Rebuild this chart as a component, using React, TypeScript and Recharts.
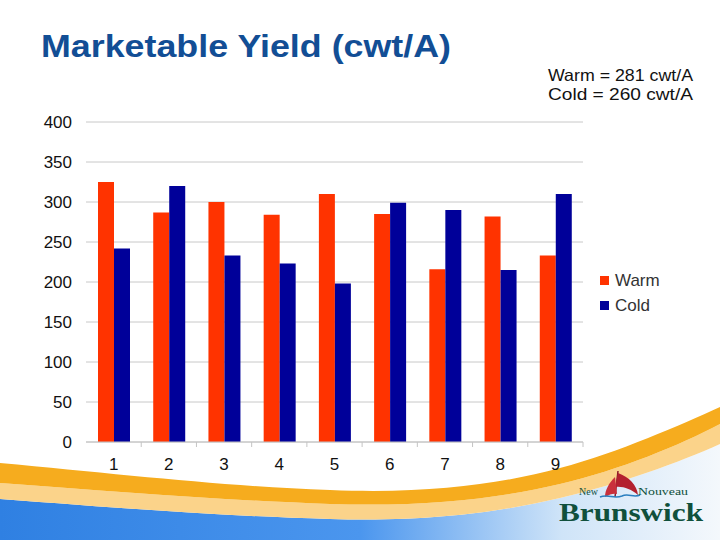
import React from "react";
import { BarChart, Bar, XAxis, YAxis, CartesianGrid, Legend } from "recharts";

const categories = ["1", "2", "3", "4", "5", "6", "7", "8", "9"];
const warm = [325, 287, 300, 284, 310, 285, 216, 282, 233];
const cold = [242, 320, 233, 223, 198, 299, 290, 215, 310];
const yTicks = [0, 50, 100, 150, 200, 250, 300, 350, 400];
const seriesNames = ["Warm", "Cold"];
const seriesColors = ["#FF3300", "#000099"];
const summary = ["Warm = 281 cwt/A", "Cold = 260 cwt/A"];

const data = categories.map((name, i) => ({ name, Warm: warm[i], Cold: cold[i] }));

const W = 720;
const H = 540;
const PLOT_LEFT = 86;
const PLOT_RIGHT = 583;
const BAND = (PLOT_RIGHT - PLOT_LEFT) / categories.length;
const FONT = "'Liberation Sans', Arial, sans-serif";

// x labels at the band centre, small tick marks at the band edges
const XTick = (props: any) => {
  const { x, y, payload } = props;
  return (
    <g>
      <line x1={x + BAND / 2} x2={x + BAND / 2} y1={y} y2={y + 5} stroke="#c4c4c4" />
      <text x={x} y={y + 28} textAnchor="middle" fontSize={17} fill="#111" fontFamily={FONT}>
        {payload.value}
      </text>
    </g>
  );
};

const LegendBox = () => (
  <div style={{ fontFamily: FONT, fontSize: 17, color: "#333" }}>
    {seriesNames.map((s, i) => (
      <div key={s} style={{ display: "flex", alignItems: "center", height: 25 }}>
        <div style={{ width: 9, height: 9, background: seriesColors[i], marginRight: 6 }} />
        <span>{s}</span>
      </div>
    ))}
  </div>
);

const Backdrop = () => (
  <svg width={W} height={H} style={{ position: "absolute", left: 0, top: 0 }}>
    <defs>
      <linearGradient id="sky" x1="0" y1="0" x2="1" y2="0">
        <stop offset="0" stopColor="#2f80e2" />
        <stop offset="0.5" stopColor="#4b96ee" />
        <stop offset="0.78" stopColor="#cfe4f8" />
        <stop offset="1" stopColor="#f4f8fc" />
      </linearGradient>
    </defs>
    {/* blue sky under the swoosh */}
    <path
      d="M0,499 C120,508 220,516 330,519 C430,522 500,512 560,498 C620,484 680,462 720,444 L720,540 L0,540 Z"
      fill="url(#sky)"
    />
    {/* pale orange band */}
    <path
      d="M0,483 C120,492 220,500 330,504 C430,507 500,498 560,484 C620,470 680,445 720,424 L720,444 C680,462 620,484 560,498 C500,512 430,522 330,519 C220,516 120,508 0,499 Z"
      fill="#fbd38a"
    />
    {/* dark orange band */}
    <path
      d="M0,463 C120,474 220,486 330,490 C430,494 500,484 560,468 C620,452 680,425 720,407 L720,424 C680,445 620,470 560,484 C500,498 430,507 330,504 C220,500 120,492 0,483 Z"
      fill="#f6ac1e"
    />

    <text x={41} y={57} fontFamily={FONT} fontWeight="bold" fontSize={32} fill="#124e95" textLength={410} lengthAdjust="spacingAndGlyphs">
      Marketable Yield (cwt/A)
    </text>
    {summary.map((t, i) => (
      <text key={t} x={548} y={81 + i * 19} fontFamily={FONT} fontSize={16.5} fill="#111" textLength={145} lengthAdjust="spacingAndGlyphs">
        {t}
      </text>
    ))}

    {/* logo */}
    <g>
      <line x1={618} y1={471} x2={615} y2={497} stroke="#8a1c2a" strokeWidth={1.5} />
      <path d="M618,473 C629,477 637,485 638,495 C631,489 623,486 615,487 Z" fill="#b3202f" />
      <path d="M615,477 C609,483 605,490 605,497 C610,494 614,493 617,494 Z" fill="#c9303c" />
      <path d="M600,497 C608,494 614,499 622,496 C628,493 634,498 640,495" stroke="#2b7fc0" strokeWidth={1.5} fill="none" />
      <text x={579} y={495} fontFamily="'Liberation Serif', serif" fontSize={10} fill="#10503c">New</text>
      <text x={638} y={495} fontFamily="'Liberation Serif', serif" fontSize={10} fill="#10503c" textLength={50} lengthAdjust="spacingAndGlyphs">Nouveau</text>
      <text x={559} y={521} fontFamily="'Liberation Serif', serif" fontWeight="bold" fontSize={26} fill="#10503c" textLength={144} lengthAdjust="spacingAndGlyphs">
        Brunswick
      </text>
    </g>
  </svg>
);

export default function App() {
  return (
    <div style={{ position: "absolute", left: 0, top: 0, width: W, height: H, background: "#fff", overflow: "hidden" }}>
      <Backdrop />
      <div style={{ position: "absolute", left: 0, top: 0 }}>
        <BarChart
          width={W}
          height={H}
          data={data}
          margin={{ top: 122, right: W - PLOT_RIGHT, bottom: 68, left: 0 }}
          barCategoryGap={12}
          barGap={0}
        >
          <CartesianGrid vertical={false} stroke="#c8c8c8" />
          <YAxis
            width={PLOT_LEFT}
            domain={[0, 400]}
            ticks={yTicks}
            axisLine={false}
            tickLine={false}
            tickSize={0}
            tickMargin={14}
            tick={{ fontSize: 17, fill: "#111", fontFamily: FONT }}
          />
          <XAxis
            dataKey="name"
            height={30}
            axisLine={{ stroke: "#c4c4c4" }}
            tickLine={false}
            tickSize={0}
            tickMargin={0}
            interval={0}
            tick={<XTick />}
          />
          <Legend
            layout="horizontal"
            align="center"
            verticalAlign="middle"
            content={<LegendBox />}
            wrapperStyle={{ position: "absolute", left: 600, top: 268, width: 100 }}
          />
          {seriesNames.map((s, i) => (
            <Bar key={s} dataKey={s} fill={seriesColors[i]} isAnimationActive={false} />
          ))}
        </BarChart>
      </div>
    </div>
  );
}
